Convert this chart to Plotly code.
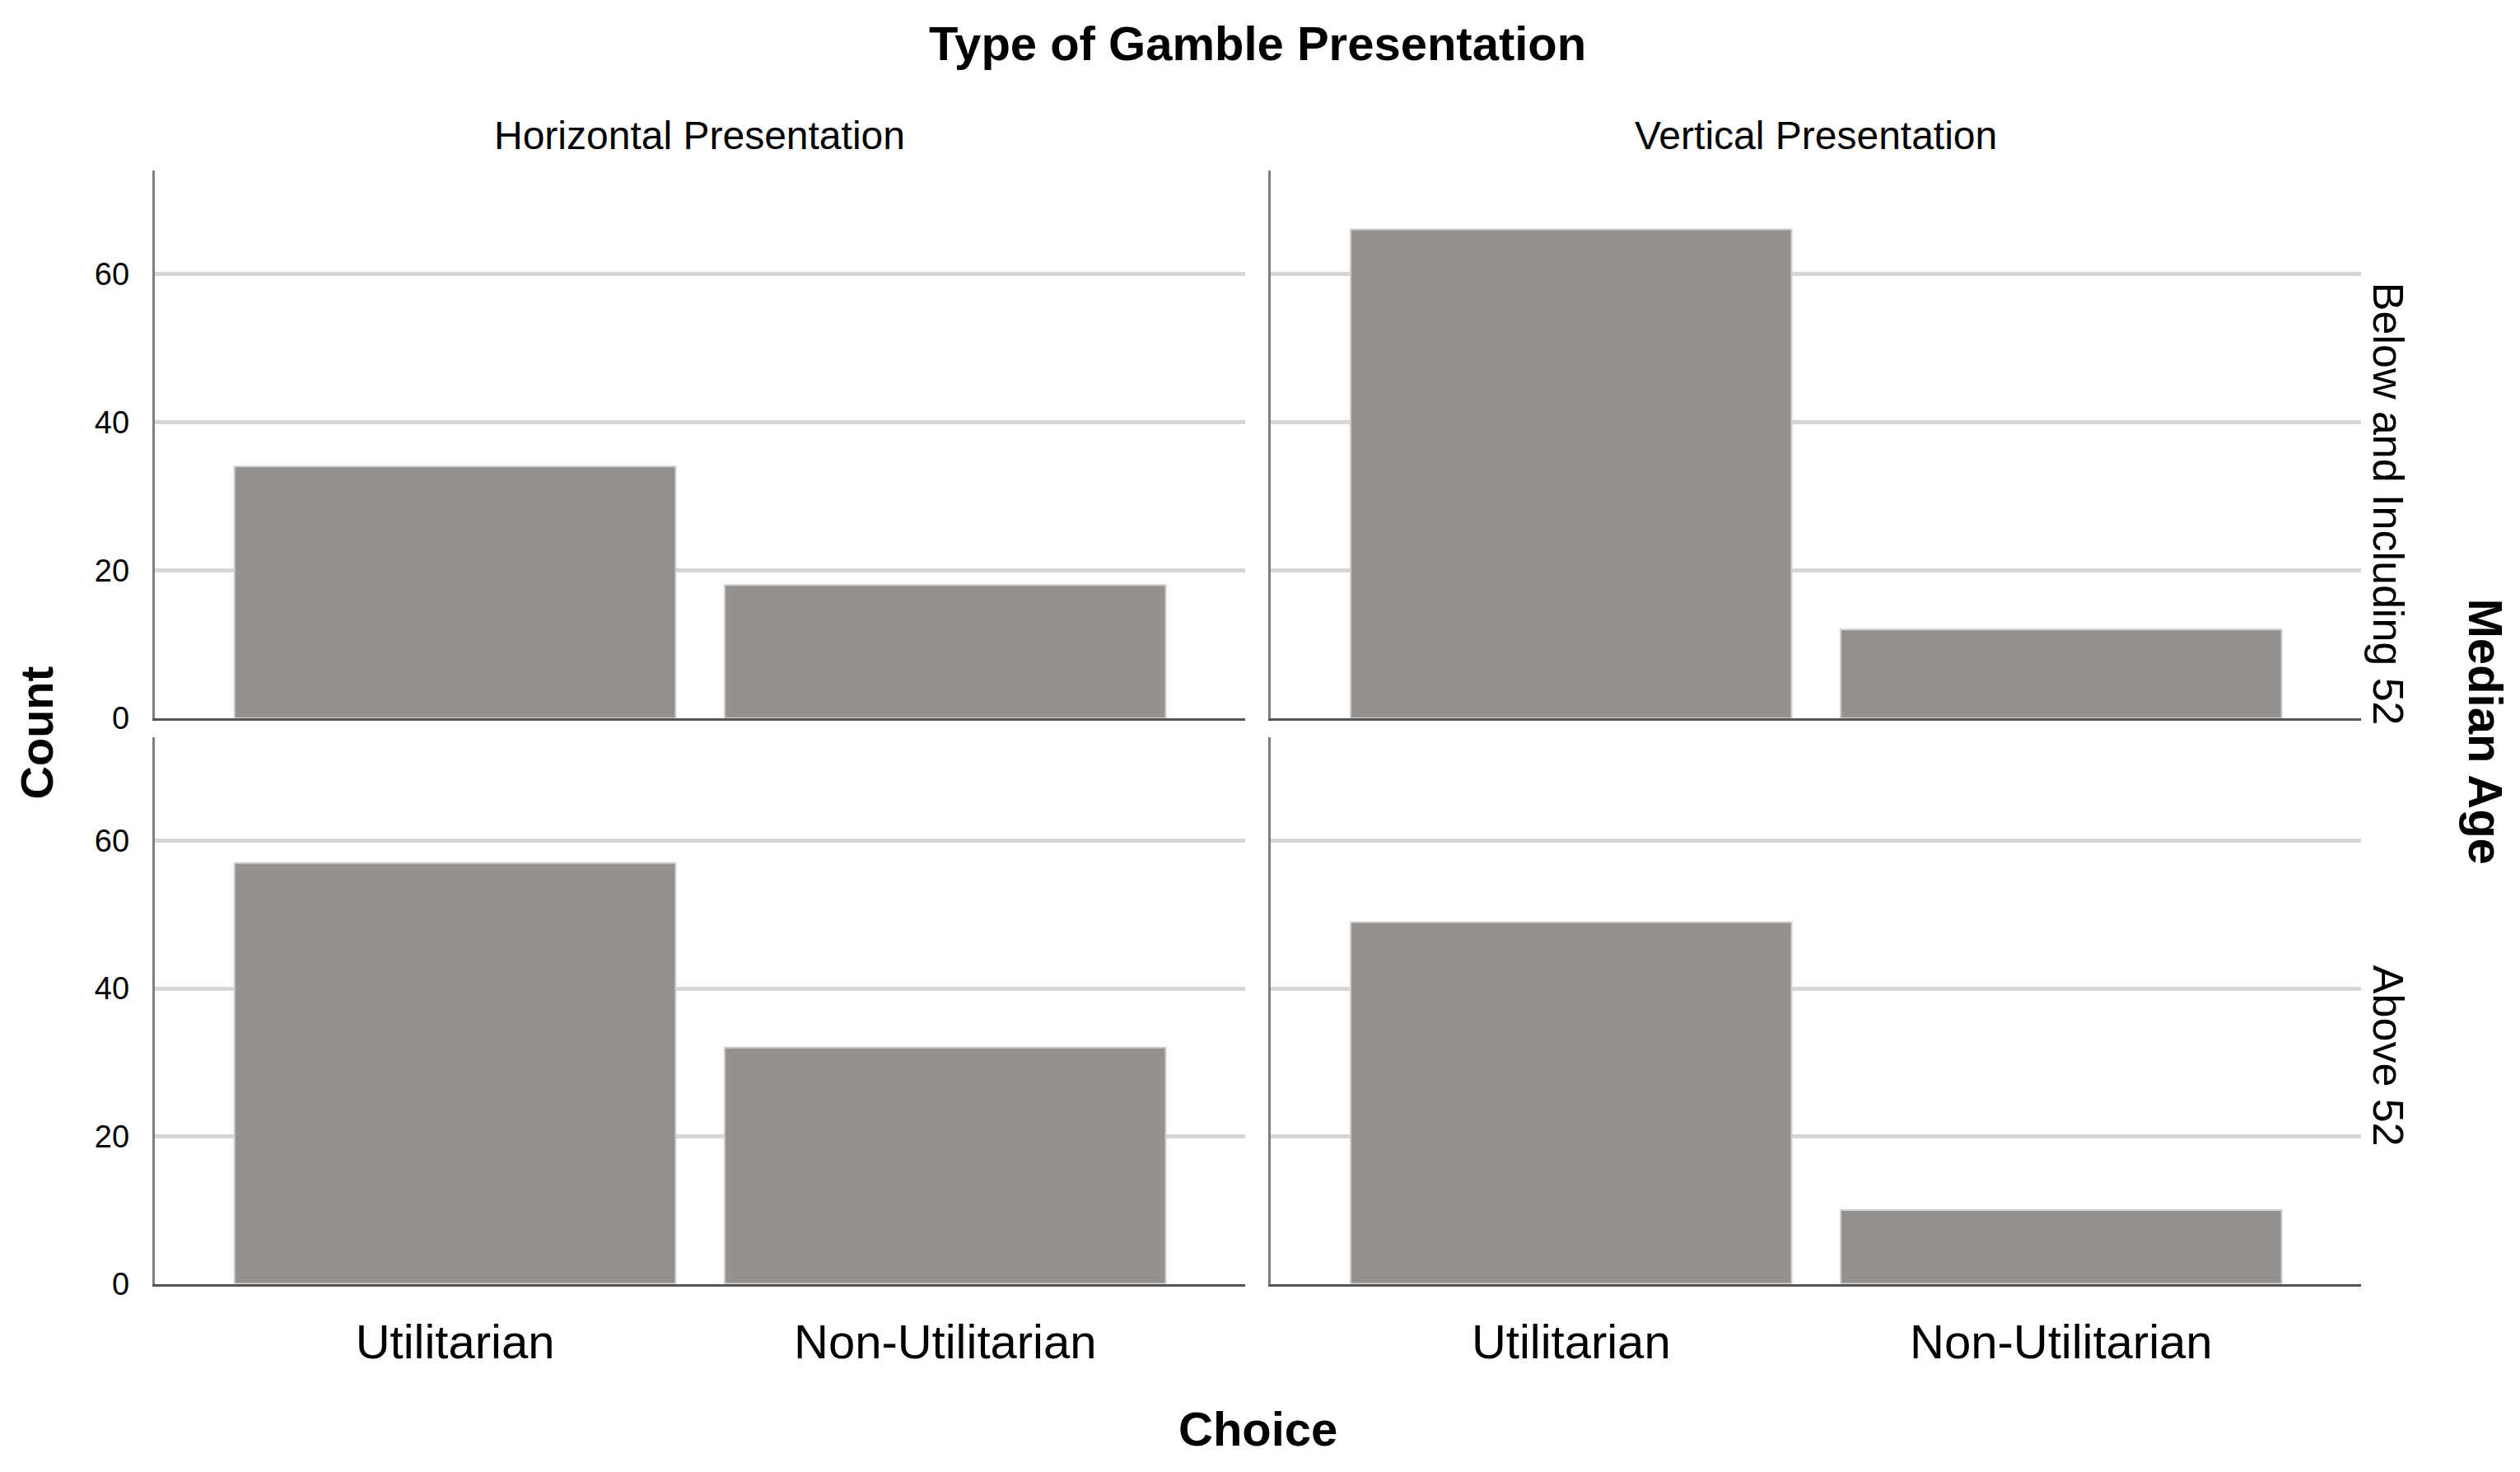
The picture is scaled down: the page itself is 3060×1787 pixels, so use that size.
import plotly.graph_objects as go

choices = ["Utilitarian", "Non-Utilitarian"]
presentations = ["Horizontal Presentation", "Vertical Presentation"]
age_groups = ["Below and Including 52", "Above 52"]
counts_below_horizontal = [34, 18]
counts_below_vertical = [66, 12]
counts_above_horizontal = [57, 32]
counts_above_vertical = [49, 10]
y_ticks = [0, 20, 40, 60]

W, H = 3060, 1787
FONT = "Liberation Sans, Arial, sans-serif"
BAR = "#95918f"

def px_x(v):
    return v / W

def px_y(v):
    return 1 - v / H

x_domains = [[px_x(179.7), px_x(1504)], [px_x(1535), px_x(2859)]]
y_domains = [[px_y(874.3), px_y(201)], [px_y(1569), px_y(898)]]
center_x = (x_domains[0][0] + x_domains[1][1]) / 2

panels = [
    (0, 0, counts_below_horizontal),
    (0, 1, counts_below_vertical),
    (1, 0, counts_above_horizontal),
    (1, 1, counts_above_vertical),
]

fig = go.Figure()
layout = {}
for i, (r, c, vals) in enumerate(panels):
    n = i + 1
    xa = "x" if n == 1 else f"x{n}"
    ya = "y" if n == 1 else f"y{n}"
    fig.add_trace(go.Bar(
        x=choices, y=vals, xaxis=xa, yaxis=ya,
        width=[0.9] * len(choices),
        marker=dict(color=BAR, line=dict(color="#cfcfcf", width=2)),
        showlegend=False, hoverinfo="x+y",
    ))
    xk = "xaxis" if n == 1 else f"xaxis{n}"
    yk = "yaxis" if n == 1 else f"yaxis{n}"
    layout[xk] = dict(
        domain=x_domains[c], anchor=ya, range=[-0.613, 1.612],
        type="category", showgrid=False, zeroline=False,
        showline=True, linecolor="#555555", linewidth=3,
        ticks="", showticklabels=(r == 1),
        tickfont=dict(family=FONT, size=58, color="#000000"),
        ticklabelstandoff=18,
        fixedrange=True,
    )
    layout[yk] = dict(
        domain=y_domains[r], anchor=xa, range=[0, 74],
        tickvals=y_ticks, ticktext=[str(t) for t in y_ticks],
        showgrid=True, gridcolor="#d6d6d6", gridwidth=5,
        zeroline=False, showline=True, linecolor="#7f7f7f", linewidth=3,
        ticks="", showticklabels=(c == 0),
        tickfont=dict(family=FONT, size=38, color="#000000"),
        ticklabelstandoff=20,
        fixedrange=True,
    )

annotations = [
    dict(text="<b>Type of Gamble Presentation</b>", x=center_x, y=px_y(45),
         font=dict(size=58)),
    dict(text=presentations[0], x=(x_domains[0][0] + x_domains[0][1]) / 2, y=px_y(158),
         font=dict(size=48)),
    dict(text=presentations[1], x=(x_domains[1][0] + x_domains[1][1]) / 2, y=px_y(158),
         font=dict(size=48)),
    dict(text=age_groups[0], x=px_x(2892), y=px_y(611), textangle=90,
         font=dict(size=52)),
    dict(text=age_groups[1], x=px_x(2892), y=px_y(1289), textangle=90,
         font=dict(size=52)),
    dict(text="<b>Count</b>", x=px_x(37), y=px_y(892), textangle=-90,
         font=dict(size=56)),
    dict(text="<b>Choice</b>", x=center_x, y=px_y(1747),
         font=dict(size=58)),
    dict(text="<b>Median Age</b>", x=px_x(3010), y=px_y(890), textangle=90,
         font=dict(size=58)),
]
for a in annotations:
    a.update(xref="paper", yref="paper", showarrow=False,
             xanchor="center", yanchor="middle")
    a["font"].update(family=FONT, color="#000000")

fig.update_layout(
    width=W, height=H,
    margin=dict(l=0, r=0, t=0, b=0),
    paper_bgcolor="#ffffff", plot_bgcolor="#ffffff",
    annotations=annotations,
    font=dict(family=FONT, color="#000000"),
    **layout,
)

fig.write_html("out.html")
